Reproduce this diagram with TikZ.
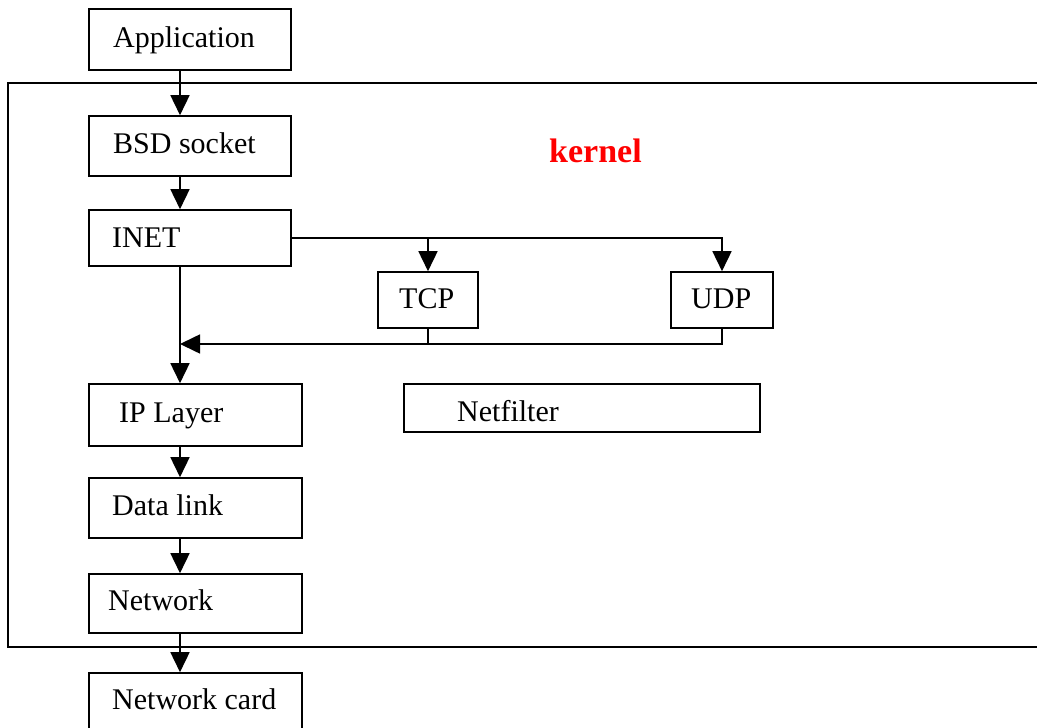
\documentclass[tikz,border=0pt]{standalone}
\usepackage{fontspec}
\setmainfont{Liberation Serif}
\usetikzlibrary{arrows.meta}
\begin{document}
\begin{tikzpicture}[x=1pt,y=-1pt,
  box/.style={draw, line width=1.6pt, inner sep=0pt},
  lbl/.style={anchor=base west, inner sep=0pt, font=\fontsize{30}{36}\selectfont},
  arr/.style={line width=1.6pt, -{Triangle[length=20pt,width=19pt]}},
  wire/.style={line width=1.6pt}]
\useasboundingbox (0,0) rectangle (1037,728);
\clip (0,0) rectangle (1037,728);
\fill[white] (0,0) rectangle (1037,728);

% kernel frame, open to the right
\coordinate (ktr) at (1045,83);
\coordinate (kbr) at (1045,647);
\draw[wire] (ktr) -- (8,83) -- (8,647) -- (kbr);
\node[anchor=base west, inner sep=0pt, text=red,
      font=\fontsize{34}{40}\selectfont\bfseries] (kernel) at (549,162) {kernel};

% boxes
\node[box, minimum width=202pt, minimum height=61pt] (app)  at (190,39.5) {};
\node[box, minimum width=202pt, minimum height=60pt] (bsd)  at (190,146) {};
\node[box, minimum width=202pt, minimum height=56pt] (inet) at (190,238) {};
\node[box, minimum width=100pt, minimum height=56pt] (tcp)  at (428,300) {};
\node[box, minimum width=102pt, minimum height=56pt] (udp)  at (722,300) {};
\node[box, minimum width=213pt, minimum height=62pt] (ip)   at (195.5,415) {};
\node[box, minimum width=356pt, minimum height=48pt] (netf) at (582,408) {};
\node[box, minimum width=213pt, minimum height=60pt] (dl)   at (195.5,508) {};
\node[box, minimum width=213pt, minimum height=59pt] (net)  at (195.5,603.5) {};
\node[box, minimum width=213pt, minimum height=62pt] (card) at (195.5,704) {};

% labels
\node[lbl] (appT)  at (113,47)  {Application};
\node[lbl] (bsdT)  at (113,153) {BSD socket};
\node[lbl] (inetT) at (112,247) {INET};
\node[lbl] (tcpT)  at (399,308) {TCP};
\node[lbl] (udpT)  at (691,308) {UDP};
\node[lbl] (ipT)   at (119,422) {IP Layer};
\node[lbl] (netfT) at (457,421) {Netfilter};
\node[lbl] (dlT)   at (112,515) {Data link};
\node[lbl] (netT)  at (108,610) {Network};
\node[lbl] (cardT) at (112,709) {Network card};

% main vertical path
\coordinate (spine) at (180,0);
\coordinate (join) at (180,344);
\draw[arr] (app.south -| spine) -- (bsd.north -| spine);
\draw[arr] (bsd.south -| spine) -- (inet.north -| spine);
\draw[arr] (inet.south -| spine) -- (ip.north -| spine);
\draw[arr] (ip.south -| spine) -- (dl.north -| spine);
\draw[arr] (dl.south -| spine) -- (net.north -| spine);
\draw[arr] (net.south -| spine) -- (card.north -| spine);

% INET to transport protocols
\draw[arr] (inet.east) -| (udp.north);
\draw[arr] (inet.east -| tcp.north) -- (tcp.north);

% transport protocols back to the IP path
\draw[wire] (tcp.south) -- (tcp.south |- join);
\draw[arr] (udp.south) |- (join);
\end{tikzpicture}
\end{document}
